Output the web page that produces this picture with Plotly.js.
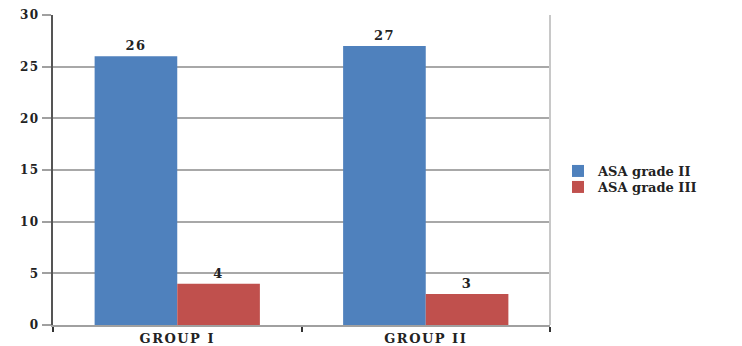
<!DOCTYPE html>
<html>
<head>
<meta charset="utf-8">
<script src="https://cdn.plot.ly/plotly-3.0.1.min.js"></script>
<style>
html,body{margin:0;padding:0;background:#fff;}
#chart{width:742px;height:346px;}
#chart .xtick text{letter-spacing:1.5px;}
#chart .ytick text{letter-spacing:1.5px;}
#chart .bartext{letter-spacing:1.5px;}
</style>
</head>
<body>
<div id="chart"></div>
<script>
var categories = ["GROUP I", "GROUP II"];
var seriesNames = ["ASA grade II", "ASA grade III"];
var gradeII = [26, 27];
var gradeIII = [4, 3];
var yTicks = [0, 5, 10, 15, 20, 25, 30];

var font = "DejaVu Serif";
function bar(name, vals, color, leg) {
  return {
    type: "bar", name: name, x: categories, y: vals, legend: leg,
    marker: {color: color},
    text: vals.map(String), textposition: "outside", cliponaxis: false,
    textfont: {family: font, size: 13, color: "#222", weight: "bold"}
  };
}
var data = [bar(seriesNames[0], gradeII, "#4F81BD", "legend"), bar(seriesNames[1], gradeIII, "#C0504D", "legend2")];
function leg(yc) {
  return {
    xref: "container", yref: "container", x: 0.752, y: yc, xanchor: "left", yanchor: "middle",
    font: {family: font, size: 13, weight: "bold", color: "#222"},
    itemwidth: 30, bgcolor: "rgba(0,0,0,0)", borderwidth: 0
  };
}
var layout = {
  width: 742, height: 346,
  margin: {l: 53, r: 192, t: 15, b: 21, autoexpand: false},
  paper_bgcolor: "#fff", plot_bgcolor: "#fff",
  barmode: "group", bargap: 0.335, bargroupgap: 0,
  font: {family: font, size: 12, color: "#222"},
  xaxis: {
    type: "category", showline: true, linecolor: "#a0a0a0", linewidth: 2,
    ticks: "outside", tickson: "boundaries", ticklen: 5, tickcolor: "#333", tickwidth: 2,
    tickfont: {family: font, size: 13, weight: "bold", color: "#222"},
    showgrid: false, zeroline: false
  },
  yaxis: {
    range: [0, 30], tickvals: yTicks, ticktext: yTicks.map(String),
    showline: true, linecolor: "#555", linewidth: 2,
    ticks: "outside", ticklen: 9, tickcolor: "#a0a0a0", tickwidth: 2,
    showgrid: true, gridcolor: "#a8a8a8", gridwidth: 2, zeroline: false,
    tickfont: {family: font, size: 12, weight: "bold", color: "#222"}
  },
  legend: leg(1 - 171 / 346),
  legend2: leg(1 - 187 / 346),
  shapes: [{type: "line", xref: "paper", yref: "paper", x0: 1, x1: 1, y0: 0, y1: 1,
    line: {color: "#c8c8c8", width: 2}}],
  showlegend: true
};
Plotly.newPlot("chart", data, layout, {displayModeBar: false});
</script>
</body>
</html>
